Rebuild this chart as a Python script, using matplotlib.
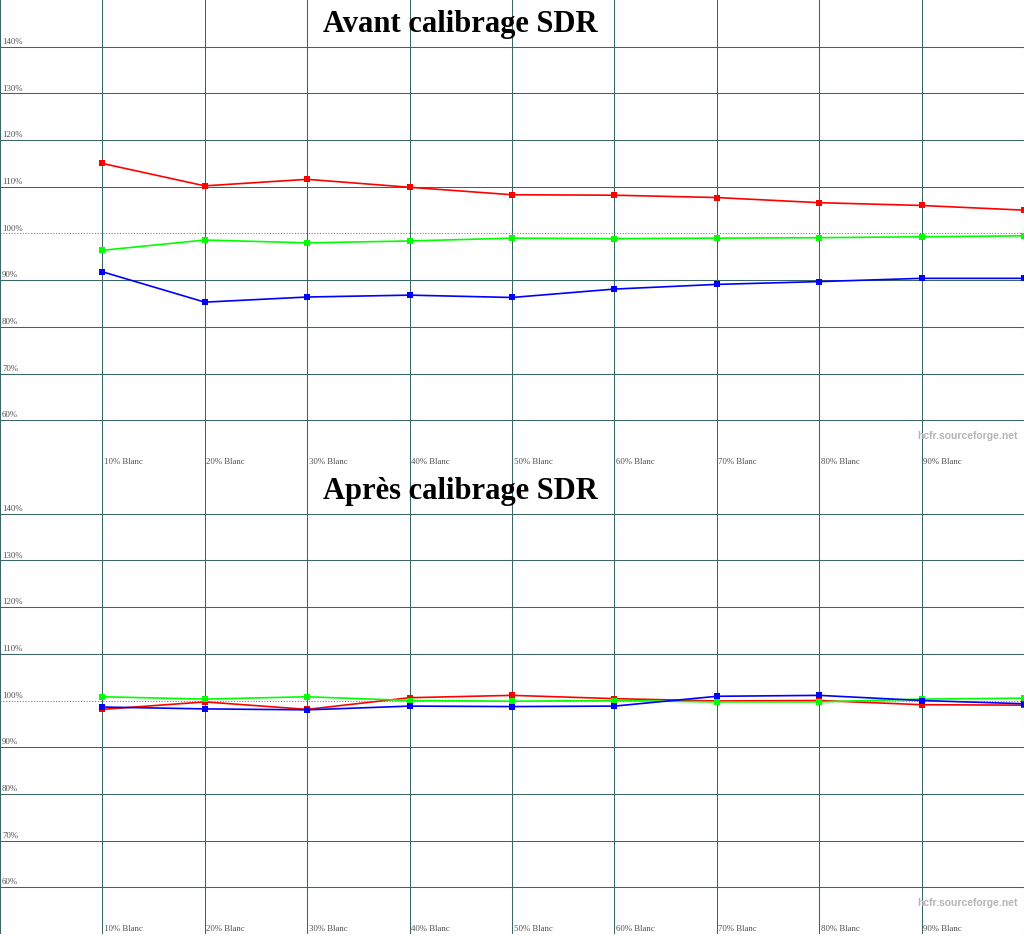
import matplotlib
matplotlib.use("Agg")
import matplotlib.pyplot as plt

# ---------------- data ----------------
levels = [10, 20, 30, 40, 50, 60, 70, 80, 90, 100]
categories = ["10% Blanc", "20% Blanc", "30% Blanc", "40% Blanc", "50% Blanc",
              "60% Blanc", "70% Blanc", "80% Blanc", "90% Blanc", "100% Blanc"]

before_red = [115.0, 110.2, 111.6, 109.9, 108.3, 108.2, 107.7, 106.6, 106.0, 105.0]
before_green = [96.4, 98.6, 98.0, 98.4, 99.0, 98.9, 99.0, 99.1, 99.3, 99.5]
before_blue = [91.8, 85.3, 86.4, 86.8, 86.3, 88.1, 89.1, 89.7, 90.4, 90.4]

after_red = [98.1, 99.7, 98.1, 100.6, 101.1, 100.4, 99.9, 100.0, 99.1, 99.0]
after_green = [100.8, 100.3, 100.8, 100.0, 99.85, 100.0, 99.7, 99.7, 100.3, 100.5]
after_blue = [98.6, 98.2, 98.0, 98.8, 98.7, 98.8, 100.9, 101.1, 100.0, 99.3]

y_ticks = [60, 70, 80, 90, 100, 110, 120, 130, 140]
y_tick_labels = ["60%", "70%", "80%", "90%", "100%", "110%", "120%", "130%", "140%"]

titles = ["Avant calibrage SDR", "Après calibrage SDR"]
watermark = "hcfr.sourceforge.net"

# ---------------- style ----------------
W, H = 1024, 943
PANEL = 467
GRID = "#3A6666"
LABEL_COL = "#505050"
SERIF = ["Liberation Serif", "DejaVu Serif"]

fig = plt.figure(figsize=(W / 100, H / 100), dpi=100)
fig.patch.set_facecolor("white")

panels = [
    (0, titles[0], before_red, before_green, before_blue),
    (PANEL, titles[1], after_red, after_green, after_blue),
]

for top_px, title, r, g, b in panels:
    ax = fig.add_axes([0, 1 - (top_px + PANEL) / H, 1, PANEL / H])
    ax.set_xlim(0, 100)
    ax.set_ylim(50, 150)
    for s in ax.spines.values():
        s.set_visible(False)
    ax.set_xticks([0] + levels)
    ax.set_yticks([t for t in y_ticks if t != 100])
    ax.tick_params(length=0, labelbottom=False, labelleft=False)
    ax.grid(True, color=GRID, linewidth=0.75, zorder=1)
    ax.set_axisbelow(True)
    ax.axhline(100, color="#808080", linewidth=0.8, linestyle=(0, (1, 1.5)), zorder=1.5)

    for lbl, t in zip(y_tick_labels, y_ticks):
        ax.text(0.2, t + 0.6, lbl, fontsize=6.3, family=SERIF, color=LABEL_COL,
                ha="left", va="baseline", zorder=2)
    for cat, x in zip(categories, levels):
        if x < 100:
            ax.text(x + 0.15, 50.7, cat, fontsize=6.3, family=SERIF, color=LABEL_COL,
                    ha="left", va="baseline", zorder=2)

    for vals, col in ((r, "#FF0000"), (g, "#00FF00"), (b, "#0000FF")):
        ax.plot(levels, vals, color=col, linewidth=1.2, marker="s", markersize=5,
                markeredgewidth=0, zorder=3, clip_on=False)

    ax.text(45.0, 144.7, title, fontsize=22, family=SERIF, fontweight="bold",
            color="black", ha="center", va="center", zorder=4)
    ax.text(99.4, 56.6, watermark, fontsize=7.5, family=["Liberation Sans", "DejaVu Sans"],
            fontweight="bold", color="#B4B4B4", ha="right", va="center", zorder=2)

fig.savefig("out.png", dpi=100, facecolor="white")
